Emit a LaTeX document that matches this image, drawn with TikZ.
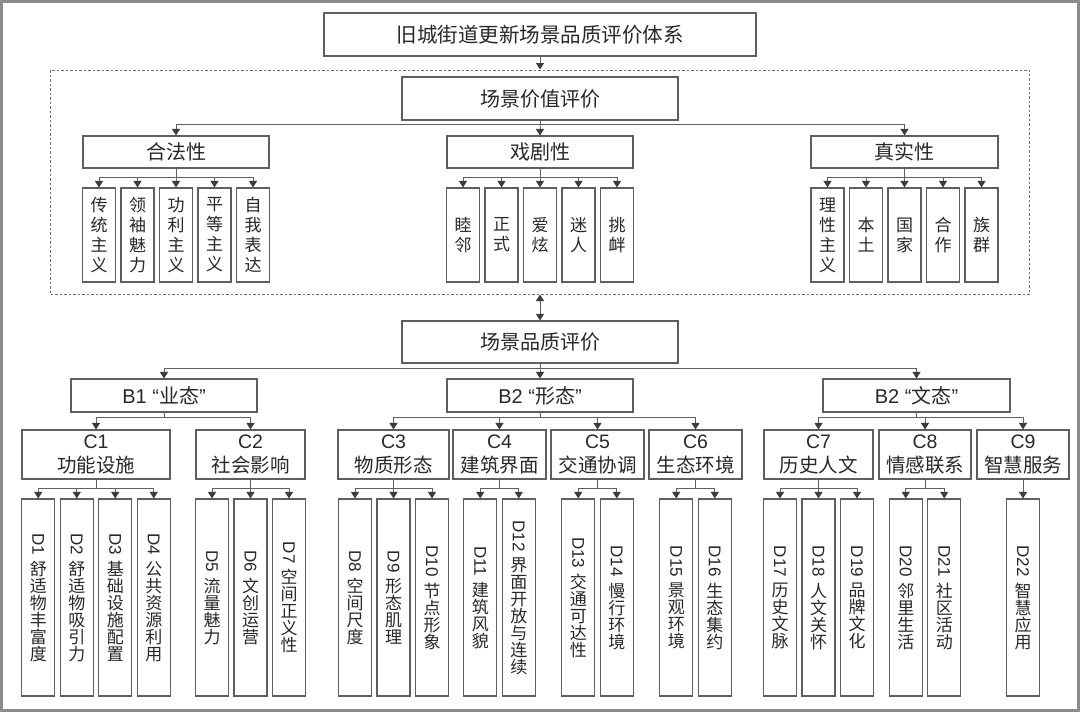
\documentclass[tikz,border=0pt]{standalone}
\usepackage{fontspec}
\setmainfont{Noto Sans CJK SC}
\newfontfamily\latf{Liberation Sans}
\usepackage{tikz}
\usetikzlibrary{arrows.meta}
\definecolor{lineC}{RGB}{95,95,95}
\definecolor{arrC}{RGB}{60,60,60}
\definecolor{txtC}{RGB}{40,40,40}
\definecolor{frameC}{RGB}{140,140,140}
\definecolor{dashC}{RGB}{110,110,110}
\newcommand{\dfont}{\fontsize{17}{17}\selectfont\lineskip=6pt\lineskiplimit=0pt}

\begin{document}
\begin{tikzpicture}[x=1pt, y=-1pt,
    box/.style={rectangle, draw=lineC, line width=1.1pt, fill=white, inner sep=0pt, text=txtC, align=center},
    topbox/.style={box, minimum width=276pt, minimum height=43pt, font=\fontsize{20}{24}\selectfont},
    midbox/.style={box, minimum width=186pt, minimum height=33pt, font=\fontsize{20}{24}\selectfont},
    cbox/.style={box, minimum height=49pt, font=\fontsize{19.5}{24}\selectfont},
    vbox/.style={box, minimum width=33pt, minimum height=94pt, font=\fontsize{17}{20}\selectfont},
    dbox/.style={box, minimum width=33pt, minimum height=197pt, font=\dfont},
    frame/.style={rectangle, draw=dashC, line width=1pt, dash pattern=on 2.5pt off 2pt, inner sep=0pt},
    arr/.style={-{Triangle[length=6.5pt, width=8pt, color=arrC]}, line width=1pt, draw=lineC},
    darr/.style={{Triangle[length=6.5pt, width=8pt, color=arrC]}-{Triangle[length=6.5pt, width=8pt, color=arrC]}, line width=1pt, draw=lineC},
]
\useasboundingbox (0,0) rectangle (1080,712);
\draw[frameC, line width=3pt] (1.5,1.5) rectangle (1078.5,710.5);

% ========== TOP: system title ==========
\node[topbox, minimum width=432pt, font=\fontsize{20.5}{24}\selectfont] at (540,34.5) (sys) {旧城街道更新场景品质评价体系};

% ========== VALUE PART (dashed frame) ==========
\node[frame, minimum width=979pt, minimum height=224pt] at (540,182) (valframe) {};
\node[topbox] at (540,98.5) (value) {场景价值评价};

\node[midbox, minimum height=32pt] at (176,152) (legit) {合法性};
\node[midbox, minimum height=32pt] at (540,152) (drama) {戏剧性};
\node[midbox, minimum height=32pt, minimum width=187pt] at (904.5,152) (auth) {真实性};

% children of legit
\node[vbox] at (99,235) (lg1) {传\\统\\主\\义};
\node[vbox] at (137.5,235) (lg2) {领\\袖\\魅\\力};
\node[vbox] at (176,235) (lg3) {功\\利\\主\\义};
\node[vbox] at (214.5,235) (lg4) {平\\等\\主\\义};
\node[vbox] at (253,235) (lg5) {自\\我\\表\\达};
% children of drama
\node[vbox] at (463,235) (dr1) {睦\\邻};
\node[vbox] at (501.5,235) (dr2) {正\\式};
\node[vbox] at (540,235) (dr3) {爱\\炫};
\node[vbox] at (578.5,235) (dr4) {迷\\人};
\node[vbox] at (617,235) (dr5) {挑\\衅};
% children of auth
\node[vbox] at (827.5,235) (au1) {理\\性\\主\\义};
\node[vbox] at (866,235) (au2) {本\\土};
\node[vbox] at (904.5,235) (au3) {国\\家};
\node[vbox] at (943,235) (au4) {合\\作};
\node[vbox] at (981.5,235) (au5) {族\\群};

% ========== QUALITY PART ==========
\node[topbox, minimum height=42pt] at (540,342) (quality) {场景品质评价};

\node[midbox] at (164,395.5) (biz) {{\latf B1 “}业态{\latf ”}};
\node[midbox] at (540,395.5) (form) {{\latf B2 “}形态{\latf ”}};
\node[midbox, minimum width=187pt] at (916.5,395.5) (cult) {{\latf B2 “}文态{\latf ”}};

\node[cbox, minimum width=148pt] at (96,454.5) (c1) {{\latf C1}\\功能设施};
\node[cbox, minimum width=109pt] at (250.5,454.5) (c2) {{\latf C2}\\社会影响};
\node[cbox, minimum width=111pt] at (393.5,454.5) (c3) {{\latf C3}\\物质形态};
\node[cbox, minimum width=93pt] at (499.5,454.5) (c4) {{\latf C4}\\建筑界面};
\node[cbox, minimum width=93pt] at (597.5,454.5) (c5) {{\latf C5}\\交通协调};
\node[cbox, minimum width=93pt] at (695.5,454.5) (c6) {{\latf C6}\\生态环境};
\node[cbox, minimum width=109pt] at (818.5,454.5) (c7) {{\latf C7}\\历史人文};
\node[cbox, minimum width=92pt] at (925,454.5) (c8) {{\latf C8}\\情感联系};
\node[cbox, minimum width=92pt] at (1023,454.5) (c9) {{\latf C9}\\智慧服务};

% D row (y=597.5)
\node[dbox] at (38.25,597.5) (d1) {\rotatebox{-90}{\latf D1}\\舒\\适\\物\\丰\\富\\度};
\node[dbox] at (76.75,597.5) (d2) {\rotatebox{-90}{\latf D2}\\舒\\适\\物\\吸\\引\\力};
\node[dbox] at (115.25,597.5) (d3) {\rotatebox{-90}{\latf D3}\\基\\础\\设\\施\\配\\置};
\node[dbox] at (153.75,597.5) (d4) {\rotatebox{-90}{\latf D4}\\公\\共\\资\\源\\利\\用};
\node[dbox] at (212,597.5) (d5) {\rotatebox{-90}{\latf D5}\\流\\量\\魅\\力};
\node[dbox] at (250.5,597.5) (d6) {\rotatebox{-90}{\latf D6}\\文\\创\\运\\营};
\node[dbox] at (289,597.5) (d7) {\rotatebox{-90}{\latf D7}\\空\\间\\正\\义\\性};
\node[dbox] at (355,597.5) (d8) {\rotatebox{-90}{\latf D8}\\空\\间\\尺\\度};
\node[dbox] at (393.5,597.5) (d9) {\rotatebox{-90}{\latf D9}\\形\\态\\肌\\理};
\node[dbox] at (432,597.5) (d10) {\rotatebox{-90}{\latf D10}\\节\\点\\形\\象};
\node[dbox] at (480.25,597.5) (d11) {\rotatebox{-90}{\latf D11}\\建\\筑\\风\\貌};
\node[dbox] at (518.75,597.5) (d12) {\rotatebox{-90}{\latf D12}\\界\\面\\开\\放\\与\\连\\续};
\node[dbox] at (578.25,597.5) (d13) {\rotatebox{-90}{\latf D13}\\交\\通\\可\\达\\性};
\node[dbox] at (616.75,597.5) (d14) {\rotatebox{-90}{\latf D14}\\慢\\行\\环\\境};
\node[dbox] at (676.25,597.5) (d15) {\rotatebox{-90}{\latf D15}\\景\\观\\环\\境};
\node[dbox] at (714.75,597.5) (d16) {\rotatebox{-90}{\latf D16}\\生\\态\\集\\约};
\node[dbox] at (780,597.5) (d17) {\rotatebox{-90}{\latf D17}\\历\\史\\文\\脉};
\node[dbox] at (818.5,597.5) (d18) {\rotatebox{-90}{\latf D18}\\人\\文\\关\\怀};
\node[dbox] at (857,597.5) (d19) {\rotatebox{-90}{\latf D19}\\品\\牌\\文\\化};
\node[dbox] at (905.75,597.5) (d20) {\rotatebox{-90}{\latf D20}\\邻\\里\\生\\活};
\node[dbox] at (944.25,597.5) (d21) {\rotatebox{-90}{\latf D21}\\社\\区\\活\\动};
\node[dbox] at (1023,597.5) (d22) {\rotatebox{-90}{\latf D22}\\智\\慧\\应\\用};

% ========== CONNECTIONS ==========

% --- title -> value frame, value frame <-> quality ---
\draw[arr] (sys.south) -- (sys.south |- valframe.north);
\draw[darr] (valframe.south) -- (quality.north);

% --- value -> three criteria ---
\draw[arr] (value.south) -- ++(0,4) -| (legit.north);
\draw[arr] (value.south) -- ++(0,4) -| (drama.north);
\draw[arr] (value.south) -- ++(0,4) -| (auth.north);

% --- criteria -> items ---
\draw[arr] (legit.south) -- ++(0,9) -| (lg1.north);
\draw[arr] (legit.south) -- ++(0,9) -| (lg2.north);
\draw[arr] (legit.south) -- ++(0,9) -| (lg3.north);
\draw[arr] (legit.south) -- ++(0,9) -| (lg4.north);
\draw[arr] (legit.south) -- ++(0,9) -| (lg5.north);
\draw[arr] (drama.south) -- ++(0,9) -| (dr1.north);
\draw[arr] (drama.south) -- ++(0,9) -| (dr2.north);
\draw[arr] (drama.south) -- ++(0,9) -| (dr3.north);
\draw[arr] (drama.south) -- ++(0,9) -| (dr4.north);
\draw[arr] (drama.south) -- ++(0,9) -| (dr5.north);
\draw[arr] (auth.south) -- ++(0,9) -| (au1.north);
\draw[arr] (auth.south) -- ++(0,9) -| (au2.north);
\draw[arr] (auth.south) -- ++(0,9) -| (au3.north);
\draw[arr] (auth.south) -- ++(0,9) -| (au4.north);
\draw[arr] (auth.south) -- ++(0,9) -| (au5.north);

% --- quality -> B ---
\draw[arr] (quality.south) -- ++(0,5) -| (biz.north);
\draw[arr] (quality.south) -- ++(0,5) -| (form.north);
\draw[arr] (quality.south) -- ++(0,5) -| (cult.north);

% --- B -> C ---
\draw[arr] (biz.south) -- ++(0,5) -| (c1.north);
\draw[arr] (biz.south) -- ++(0,5) -| (c2.north);
\draw[arr] (form.south) -- ++(0,5) -| (c3.north);
\draw[arr] (form.south) -- ++(0,5) -| (c4.north);
\draw[arr] (form.south) -- ++(0,5) -| (c5.north);
\draw[arr] (form.south) -- ++(0,5) -| (c6.north);
\draw[arr] (cult.south) -- ++(0,5) -| (c7.north);
\draw[arr] (cult.south) -- ++(0,5) -| (c8.north);
\draw[arr] (cult.south) -- ++(0,5) -| (c9.north);

% --- C -> D ---
\draw[arr] (c1.south) -- ++(0,9) -| (d1.north);
\draw[arr] (c1.south) -- ++(0,9) -| (d2.north);
\draw[arr] (c1.south) -- ++(0,9) -| (d3.north);
\draw[arr] (c1.south) -- ++(0,9) -| (d4.north);
\draw[arr] (c2.south) -- ++(0,9) -| (d5.north);
\draw[arr] (c2.south) -- ++(0,9) -| (d6.north);
\draw[arr] (c2.south) -- ++(0,9) -| (d7.north);
\draw[arr] (c3.south) -- ++(0,9) -| (d8.north);
\draw[arr] (c3.south) -- ++(0,9) -| (d9.north);
\draw[arr] (c3.south) -- ++(0,9) -| (d10.north);
\draw[arr] (c4.south) -- ++(0,9) -| (d11.north);
\draw[arr] (c4.south) -- ++(0,9) -| (d12.north);
\draw[arr] (c5.south) -- ++(0,9) -| (d13.north);
\draw[arr] (c5.south) -- ++(0,9) -| (d14.north);
\draw[arr] (c6.south) -- ++(0,9) -| (d15.north);
\draw[arr] (c6.south) -- ++(0,9) -| (d16.north);
\draw[arr] (c7.south) -- ++(0,9) -| (d17.north);
\draw[arr] (c7.south) -- ++(0,9) -| (d18.north);
\draw[arr] (c7.south) -- ++(0,9) -| (d19.north);
\draw[arr] (c8.south) -- ++(0,9) -| (d20.north);
\draw[arr] (c8.south) -- ++(0,9) -| (d21.north);
\draw[arr] (c9.south) -- (d22.north);

\end{tikzpicture}
\end{document}
